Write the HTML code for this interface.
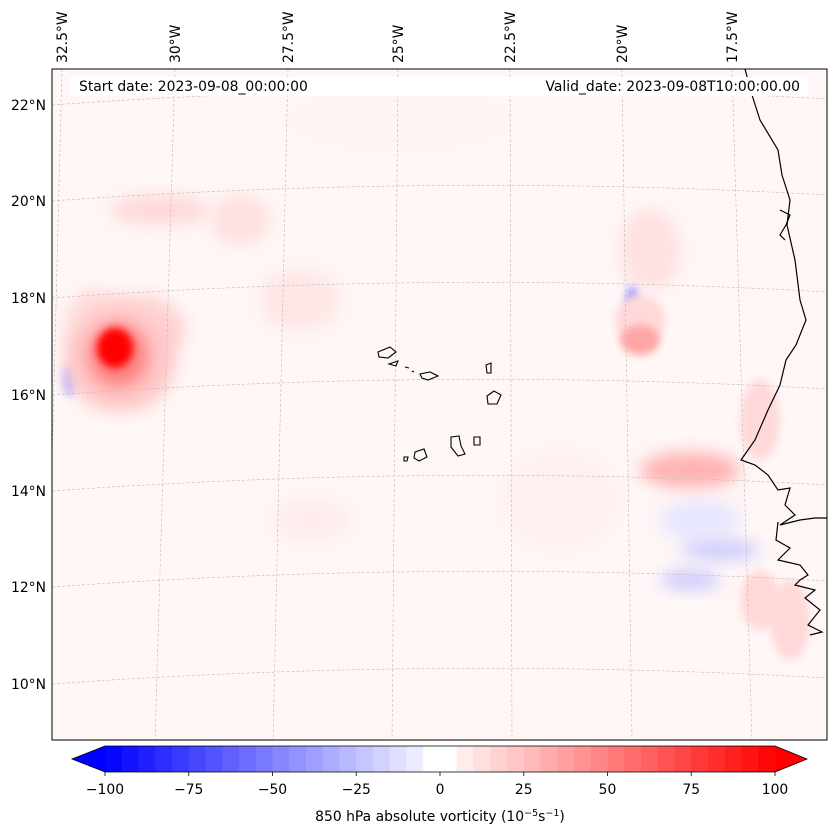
<!DOCTYPE html>
<html><head><meta charset="utf-8"><style>
body{margin:0;background:#fff;}
svg{display:block;font-family:"DejaVu Sans","Liberation Sans",sans-serif;}
</style></head><body>
<svg id="s" width="837" height="839" viewBox="0 0 837 839" xmlns="http://www.w3.org/2000/svg">
<defs>
<filter id="blur8" x="-50%" y="-50%" width="200%" height="200%"><feGaussianBlur stdDeviation="8"/></filter>
<filter id="blur4" x="-50%" y="-50%" width="200%" height="200%"><feGaussianBlur stdDeviation="4"/></filter>
<clipPath id="mapclip"><rect x="52" y="69" width="775" height="671"/></clipPath>
</defs>
<g id="map" clip-path="url(#mapclip)">
<rect x="52" y="69" width="775" height="671" fill="#fff6f6"/>
<g id="blobs"></g>
<g id="grid"></g>
<g fill="none" stroke="#000" stroke-width="1.2">
<path d="M745,69 L752,95 L760,120 L778,150 L782,175 L790,200 L787,225 L795,260 L800,300 L806,320 L796,345 L786,360 L780,385 L768,410 L755,440 L741,460 L755,465 L768,475 L778,490 L790,488 L785,505 L795,515 L780,525 L800,520 L815,518 L827,518"/>
<path d="M778,522 L776,540 L790,548 L778,560 L800,565 L808,575 L800,580 L795,585 L815,590 L805,598 L820,610 L808,625 L822,632 L810,635"/>
<path d="M780,210 L790,215 L786,225 L780,235 L785,240"/>
</g>
<g fill="none" stroke="#000" stroke-width="1.1">
<path d="M378,352 L390,347 L396,352 L388,358 L379,357Z"/>
<path d="M389,364 L398,361 L396,366Z"/>
<path d="M420,374 L430,372 L438,376 L428,380 L422,378Z"/>
<path d="M486,365 L491,363 L491,373 L487,373Z"/>
<path d="M487,396 L494,391 L501,395 L497,404 L488,404Z"/>
<path d="M451,437 L459,436 L461,446 L465,454 L458,456 L451,447Z"/>
<path d="M474,437 L480,437 L480,445 L474,445Z"/>
<path d="M415,452 L424,449 L427,457 L419,461 L414,458Z"/>
<path d="M404,457 L408,457 L407,461 L404,461Z"/>
<path d="M405,367 L409,368" /><path d="M412,371 L414,372"/>
</g>
</g>
<rect x="52" y="69" width="775" height="671" fill="none" stroke="#000" stroke-width="1"/>
<rect x="70" y="77" width="738" height="19" fill="#fff"/>
<text x="79" y="91" font-size="13.9">Start date: 2023-09-08_00:00:00</text>
<text x="800" y="91" font-size="13.9" text-anchor="end">Valid_date: 2023-09-08T10:00:00.00</text>
<g id="lonlabels" font-size="13.9"></g>
<g id="latlabels" font-size="13.9"></g>
<g id="cbar"></g>
<text x="440" y="821" font-size="13.9" text-anchor="middle">850 hPa absolute vorticity (10<tspan font-size="9.5" dy="-5">−5</tspan><tspan dy="5">s</tspan><tspan font-size="9.5" dy="-5">−1</tspan><tspan dy="5">)</tspan></text>
</svg>
<script>
const NS="http://www.w3.org/2000/svg";
const lonLabels=["32.5°W","30°W","27.5°W","25°W","22.5°W","20°W","17.5°W"];
const lonTopX=[62,175,288,398,510,622,732];
const lonBotX=[45,155,273,392,512,632,752];
const latLabels=["22°N","20°N","18°N","16°N","14°N","12°N","10°N"];
const latY=[105,201,298,395,491,587,684];
const cbLevels=[-100,-95,-90,-85,-80,-75,-70,-65,-60,-55,-50,-45,-40,-35,-30,-25,-20,-15,-10,-5,0,5,10,15,20,25,30,35,40,45,50,55,60,65,70,75,80,85,90,95];
const cbTicks=[-100,-75,-50,-25,0,25,50,75,100];
// vorticity features: x, y (px in map), rx, ry, value
const blobX=[115,118,120,135,95,240,70,300,640,640,632,690,720,690,760,790,160,400,560,700,310,650,760];
const blobY=[348,355,362,330,330,220,380,300,340,320,300,470,550,580,420,620,210,120,500,520,520,250,600];
const blobRX=[18,30,55,50,30,30,8,40,20,25,6,50,40,30,20,20,50,120,60,40,40,30,20];
const blobRY=[20,32,50,35,40,25,16,30,15,25,14,18,10,10,40,40,15,40,50,20,20,40,30];
const blobV=[100,50,22,18,15,12,-25,10,35,15,-40,30,-20,-20,15,15,15,4,6,-10,8,12,15];
function col(v){const t=Math.min(1,Math.abs(v)/100);const c=Math.round(255*(1-t));return v>=0?`rgb(255,${c},${c})`:`rgb(${c},${c},255)`;}
function el(tag,attrs,parent){const e=document.createElementNS(NS,tag);for(const k in attrs)e.setAttribute(k,attrs[k]);parent.appendChild(e);return e;}
const blobs=document.getElementById('blobs');
for(let i=blobX.length-1;i>=0;i--){
const e=el('ellipse',{cx:blobX[i],cy:blobY[i],rx:blobRX[i],ry:blobRY[i],fill:col(blobV[i]),filter:blobRX[i]>25?'url(#blur8)':'url(#blur4)'},blobs);


}
const grid=document.getElementById('grid');
for(let i=0;i<lonTopX.length;i++){
const l=el('line',{x1:lonTopX[i],y1:69,x2:lonBotX[i],y2:740,stroke:'#bbb','stroke-width':0.6,'stroke-dasharray':'3,2'},grid);


}
for(let i=0;i<latY.length;i++){
const y=latY[i];
const p=el('path',{d:`M52,${y} Q440,${y-28} 827,${y-6}`,fill:'none',stroke:'#bbb','stroke-width':0.6,'stroke-dasharray':'3,2'},grid);


}
const ll=document.getElementById('lonlabels');
for(let i=0;i<lonLabels.length;i++){
const t=el('text',{x:0,y:0,transform:`translate(${lonTopX[i]+5},63) rotate(-90)`},ll);
t.textContent=lonLabels[i];


}
const la=document.getElementById('latlabels');
for(let i=0;i<latLabels.length;i++){
const t=el('text',{x:46,y:latY[i]+5,'text-anchor':'end'},la);
t.textContent=latLabels[i];


}
const cb=document.getElementById('cbar');
const x0=105,x1=775,y0=746,y1=772;
const sx=v=>x0+(v+100)/200*(x1-x0);
const lt=el('polygon',{points:`${x0},${y0} 72,${(y0+y1)/2} ${x0},${y1}`,fill:col(-100)},cb);

const rt=el('polygon',{points:`${x1},${y0} 807,${(y0+y1)/2} ${x1},${y1}`,fill:col(100)},cb);

for(const v of cbLevels){
const mid=v+2.5;
const r=el('rect',{x:sx(v),y:y0,width:sx(v+5)-sx(v)+0.5,height:y1-y0,fill:col(Math.abs(mid)<5?0:mid*1.0)},cb);


}
el('polygon',{points:`${x0},${y0} ${x1},${y0} 807,${(y0+y1)/2} ${x1},${y1} ${x0},${y1} 72,${(y0+y1)/2}`,fill:'none',stroke:'#000','stroke-width':0.8},cb);
for(const v of cbTicks){
el('line',{x1:sx(v),y1:y1,x2:sx(v),y2:y1+4,stroke:'#000','stroke-width':0.8},cb);
const t=el('text',{x:sx(v),y:794,'font-size':13.9,'text-anchor':'middle'},cb);
t.textContent=v<0?'−'+Math.abs(v):String(v);


}
</script>
</body></html>
